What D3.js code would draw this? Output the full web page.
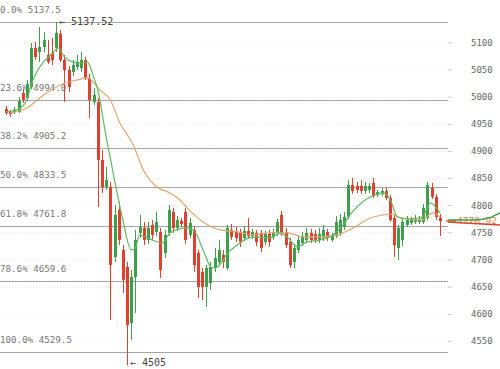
<!DOCTYPE html>
<html>
<head>
<meta charset="utf-8">
<script src="https://cdn.jsdelivr.net/npm/d3@7"></script>
<style>
  body { margin: 0; background: #fff; }
  svg { display: block; }
  text { font-family: "DejaVu Sans Mono", monospace; }
</style>
</head>
<body>
<div id="chart"></div>
<script>
// candle prices, one entry per bar
const openP = [4977.3,4971.8,4971.8,4971.8,5006.8,4997.6,5017.8,5089.7,5082.3,5091.5,
  5076.8,5080.5,5089.7,5115.5,5067.6,5049.1,5045.5,5054.7,5052.9,5067.6,
  5034.4,4990.2,4990.2,4883.4,4833.6,4833.6,4704.6,4791.3,4717.5,4686.2,
  4583.0,4667.8,4748.9,4758.1,4736.0,4763.6,4750.7,4750.7,4712.0,4748.9,
  4787.5,4758.1,4771.0,4787.5,4745.2,4754.4,4712.0,4677.0,4649.4,4656.7,
  4684.4,4695.4,4708.3,4684.4,4754.4,4752.5,4750.7,4739.6,4752.5,4743.3,
  4748.9,4748.9,4732.3,4747.0,4741.5,4748.9,4782.0,4750.7,4732.3,4695.4,
  4717.5,4730.4,4736.0,4748.9,4747.0,4736.0,4739.6,4750.7,4736.0,4743.3,
  4748.9,4759.9,4778.3,4837.3,4835.4,4835.4,4826.2,4828.0,4840.9,4818.8,
  4820.7,4826.2,4813.3,4776.5,4721.2,4736.0,4763.6,4767.3,4769.1,4769.1,
  4769.1,4776.5,4831.7,4815.2,4776.5];
const highP = [4982.8,4975.5,4980.9,4999.4,5014.1,5030.7,5098.9,5100.7,5128.4,5119.1,
  5104.4,5108.1,5137.5,5122.8,5076.8,5056.5,5067.6,5076.8,5082.3,5073.1,
  5041.8,5016.0,4997.6,4901.8,4870.4,4842.8,4800.4,4806.0,4726.7,4695.4,
  4680.7,4754.4,4782.0,4769.1,4769.1,4772.8,4787.5,4758.1,4754.4,4800.4,
  4794.9,4780.2,4776.5,4794.9,4776.5,4761.7,4717.5,4684.4,4689.9,4695.4,
  4721.2,4736.0,4717.5,4763.6,4765.4,4759.9,4756.2,4761.7,4776.5,4756.2,
  4754.4,4754.4,4752.5,4754.4,4756.2,4774.6,4789.4,4758.1,4739.6,4728.6,
  4743.3,4750.7,4758.1,4756.2,4754.4,4758.1,4763.6,4756.2,4748.9,4780.2,
  4783.8,4787.5,4846.5,4850.2,4842.8,4846.5,4842.8,4840.9,4850.2,4828.0,
  4831.7,4833.6,4818.8,4782.0,4763.6,4776.5,4780.2,4778.3,4782.0,4780.2,
  4802.3,4842.8,4840.9,4820.7,4783.8];
const lowP = [4966.2,4962.6,4968.1,4969.9,4988.3,4993.9,5014.1,5067.6,5063.9,5082.3,
  5060.2,5058.4,5082.3,5063.9,4990.2,5008.6,5038.1,5049.1,5045.5,5030.7,
  4960.7,4984.7,4796.7,4822.5,4828.0,4588.6,4695.4,4726.7,4638.3,4505.0,
  4551.7,4601.5,4739.6,4726.7,4728.6,4736.0,4743.3,4665.9,4702.8,4743.3,
  4748.9,4752.5,4759.9,4728.6,4739.6,4677.0,4629.1,4625.2,4612.5,4643.8,
  4677.0,4689.9,4684.4,4680.7,4736.0,4732.3,4723.1,4734.1,4737.8,4737.8,
  4724.9,4713.8,4726.7,4723.1,4736.0,4743.3,4743.3,4721.2,4684.4,4684.4,
  4712.0,4724.9,4730.4,4730.4,4730.4,4730.4,4734.1,4734.1,4732.3,4739.6,
  4743.3,4754.4,4774.6,4820.7,4822.5,4820.7,4820.7,4822.5,4813.3,4815.2,
  4817.0,4809.5,4769.1,4704.6,4699.1,4724.9,4759.9,4763.6,4765.4,4765.4,
  4765.4,4772.8,4811.5,4772.8,4743.3];
const closeP = [4969.9,4968.1,4975.5,4992.0,4993.9,5023.3,5089.7,5073.1,5091.5,5104.4,
  5063.9,5067.6,5117.3,5067.6,5049.1,5017.8,5058.4,5063.9,5067.6,5034.4,
  4993.9,5003.1,4883.4,4833.6,4846.5,4689.9,4782.0,4736.0,4662.3,4579.4,
  4667.8,4736.0,4759.9,4736.0,4758.1,4745.2,4769.1,4680.7,4745.2,4791.3,
  4758.1,4772.8,4765.4,4736.0,4767.3,4689.9,4649.4,4649.4,4684.4,4686.2,
  4702.8,4717.5,4695.4,4758.1,4741.5,4739.6,4732.3,4752.5,4743.3,4750.7,
  4732.3,4721.2,4747.0,4732.3,4750.7,4769.1,4748.9,4726.7,4689.9,4721.2,
  4736.0,4743.3,4748.9,4736.0,4736.0,4747.0,4754.4,4739.6,4743.3,4769.1,
  4772.8,4778.3,4837.3,4826.2,4828.0,4826.2,4835.4,4835.4,4817.0,4824.4,
  4826.2,4813.3,4772.8,4726.7,4758.1,4769.1,4772.8,4772.8,4774.6,4774.6,
  4794.9,4837.3,4815.2,4778.3,4770.9];

// moving averages: [bar index, price]
const fastMA = [[0,4971.8],[3,4977.3],[5,4993.9],[6,5021.5],[7,5039.9],[9,5063.9],[11,5078.6],
  [12.5,5089.7],[14,5073.1],[16,5063.9],[18,5062.0],[19.5,5063.9],[21,5036.2],[22,5012.3],
  [24,4925.7],[26,4846.5],[28,4772.8],[30,4717.5],[31,4721.2],[32,4745.2],[35,4736.0],
  [37.5,4730.4],[39.3,4748.9],[43.4,4758.1],[45.3,4750.7],[47.2,4717.5],[49.4,4684.4],
  [50.6,4686.2],[53.2,4712.0],[55.4,4726.7],[59.2,4741.5],[63.3,4739.6],[65.7,4748.9],
  [67.4,4741.5],[69.8,4723.1],[72.2,4732.3],[75.3,4736.0],[78.4,4745.2],[80.8,4763.6],
  [83,4787.5],[85.4,4806.0],[87.3,4815.2],[90.4,4822.5],[92.1,4809.5],[93.8,4778.3],
  [96.4,4774.6],[99.8,4778.3],[101.7,4804.1],[104,4785.7]];
const slowMA = [[1,4969.9],[5,4979.1],[9,5003.1],[13,5021.5],[17,5030.7],[19.5,5034.4],
  [22.5,5012.3],[25,4993.9],[27.3,4951.5],[30.5,4911.0],[32.9,4864.9],[36.2,4833.6],
  [39.3,4822.5],[41.7,4809.5],[43.4,4794.9],[47.2,4769.1],[51.3,4754.4],[55.4,4750.7],
  [59.2,4745.2],[63.3,4748.9],[67.4,4748.9],[71.2,4741.5],[75.3,4741.5],[79.4,4745.2],
  [83.2,4758.1],[87.3,4776.5],[90.4,4782.0],[92.6,4783.8],[94.5,4776.5],[99.8,4772.8],
  [102.2,4785.7],[104,4778.3]];

const fibPct = ["0.0%", "23.6%", "38.2%", "50.0%", "61.8%", "78.6%", "100.0%"];
const fibPrice = [5137.5, 4994.0, 4905.2, 4833.5, 4761.8, 4659.6, 4529.5];
const yTicks = [4550, 4600, 4650, 4700, 4750, 4800, 4850, 4900, 4950, 5000, 5050, 5100];

const highMark = { i: 12, price: 5137.52 };
const lowMark = { i: 29, price: 4505 };
const lastPrice = 4770.92;
const sideGreen = [4772.8, 4772.8, 4772.8, 4772.8, 4774.0, 4778.0, 4785.7];
const sideRed = [4769.1, 4768.2, 4767.3, 4766.4, 4765.4, 4764.5, 4763.6];

const width = 500, height = 369;
const plotRight = 448;
const upColor = "#3d9e4b", downColor = "#e0412f";

const svg = d3.select("#chart").append("svg")
  .attr("width", width)
  .attr("height", height);

const x = d3.scaleLinear().domain([0, openP.length - 1]).range([6, 440]);
const y = d3.scaleLinear().domain([4529.5, 5137.5]).range([352, 22]);

// faint grid
svg.append("g").selectAll("line")
  .data(yTicks)
  .join("line")
  .attr("x1", 0).attr("x2", plotRight)
  .attr("y1", d => Math.round(y(d)) + 0.5)
  .attr("y2", d => Math.round(y(d)) + 0.5)
  .attr("stroke", "#ececec")
  .attr("stroke-dasharray", "1,2");

// fibonacci levels
const fib = svg.append("g");
fib.selectAll("line")
  .data(fibPrice)
  .join("line")
  .attr("x1", 0).attr("x2", plotRight)
  .attr("y1", d => Math.round(y(d)) + 0.5)
  .attr("y2", d => Math.round(y(d)) + 0.5)
  .attr("stroke", "#a6a6a6")
  .attr("stroke-width", 1.2);
fib.selectAll("text")
  .data(fibPrice)
  .join("text")
  .attr("x", 0)
  .attr("y", d => y(d) - 9)
  .attr("font-size", 9.2)
  .attr("fill", "#777")
  .text((d, i) => fibPct[i] + " " + d.toFixed(1));

// right axis
const axis = d3.axisRight(y).tickValues(yTicks).tickSize(4).tickPadding(19)
  .tickFormat(d3.format("d"));
const ax = svg.append("g")
  .attr("transform", `translate(${plotRight},0)`)
  .call(axis);
ax.select(".domain").remove();
ax.selectAll(".tick line").attr("stroke", "#ccc");
ax.selectAll(".tick text")
  .attr("fill", "#666")
  .attr("font-size", 9)
  .attr("font-family", "DejaVu Sans Mono, monospace");

// candles
const bars = d3.range(openP.length).map(i => ({
  i, o: openP[i], h: highP[i], l: lowP[i], c: closeP[i]
}));
const candles = svg.append("g").selectAll("g")
  .data(bars)
  .join("g")
  .attr("stroke", d => d.c >= d.o ? upColor : downColor)
  .attr("fill", d => d.c >= d.o ? upColor : downColor);
candles.append("line")
  .attr("x1", d => Math.round(x(d.i)) + 0.5)
  .attr("x2", d => Math.round(x(d.i)) + 0.5)
  .attr("y1", d => y(d.h))
  .attr("y2", d => y(d.l))
  .attr("stroke-width", 1);
candles.append("rect")
  .attr("x", d => Math.round(x(d.i)) - 1)
  .attr("width", 3)
  .attr("y", d => y(Math.max(d.o, d.c)))
  .attr("height", d => Math.max(1, Math.abs(y(d.o) - y(d.c))))
  .attr("stroke", "none");

// moving averages
const maLine = d3.line().x(d => x(d[0])).y(d => y(d[1])).curve(d3.curveMonotoneX);
svg.append("path").datum(slowMA)
  .attr("d", maLine).attr("fill", "none")
  .attr("stroke", "#dfa86c").attr("stroke-width", 1.2);
svg.append("path").datum(fastMA)
  .attr("d", maLine).attr("fill", "none")
  .attr("stroke", "#5dbb5f").attr("stroke-width", 1.2);

// high / low markers
svg.append("text")
  .attr("x", x(highMark.i) + 3).attr("y", y(highMark.price))
  .attr("dy", "0.35em").attr("font-size", 10).attr("fill", "#444")
  .text("\u2190 " + highMark.price.toFixed(2));
svg.append("text")
  .attr("x", x(lowMark.i) + 3).attr("y", Math.min(y(lowMark.price), height - 7))
  .attr("dy", "0.35em").attr("font-size", 10).attr("fill", "#444")
  .text("\u2190 " + lowMark.price);

// last price marker on the axis side
const sx = d3.scaleLinear().domain([0, sideGreen.length - 1]).range([plotRight, width]);
const sideLine = d3.line().x((d, i) => sx(i)).y(d => y(d));
svg.append("line")
  .attr("x1", plotRight - 2).attr("x2", plotRight + 8)
  .attr("y1", y(lastPrice)).attr("y2", y(lastPrice))
  .attr("stroke", "#e8883f").attr("stroke-width", 2);
svg.append("text")
  .attr("x", plotRight + 9).attr("y", y(lastPrice))
  .attr("dy", "0.35em").attr("font-size", 9.5).attr("fill", "#e8823a")
  .text(lastPrice.toFixed(2));
svg.append("path").datum(sideGreen)
  .attr("d", sideLine).attr("fill", "none")
  .attr("stroke", "#3d9e4b").attr("stroke-width", 1.5);
svg.append("path").datum(sideRed)
  .attr("d", sideLine).attr("fill", "none")
  .attr("stroke", "#e0412f").attr("stroke-width", 1.5);
</script>
</body>
</html>
